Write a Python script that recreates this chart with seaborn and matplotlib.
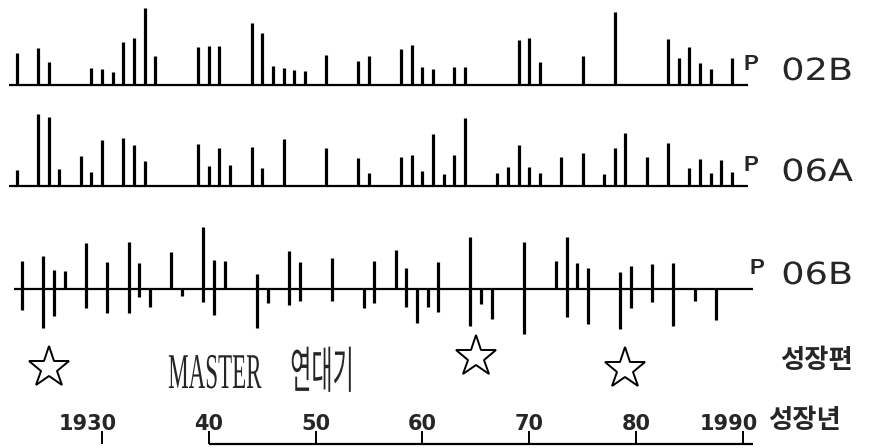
import numpy as np
import pandas as pd
import matplotlib
matplotlib.use('Agg')
import matplotlib.pyplot as plt
import seaborn as sns
from matplotlib.patheffects import AbstractPathEffect
from matplotlib.transforms import Affine2D

# skeleton plot data (bar lengths)
years_02b = [1922, 1924, 1925, 1929, 1930, 1931, 1932, 1933, 1934, 1935,
             1939, 1940, 1941, 1944, 1945, 1946, 1947, 1948, 1949,
             1951, 1954, 1955, 1958, 1959, 1960, 1961, 1963, 1964,
             1969, 1970, 1971, 1975, 1978, 1983, 1984, 1985, 1986, 1987, 1989]
heights_02b = [32, 37, 23, 17, 16, 13, 43, 47, 77, 29,
               38, 39, 39, 62, 52, 19, 17, 15, 14,
               30, 24, 29, 36, 40, 18, 16, 18, 18,
               45, 47, 23, 29, 73, 46, 27, 38, 22, 16, 27]

years_06a = [1922, 1924, 1925, 1926, 1928, 1929, 1930, 1932, 1933, 1934,
             1939, 1940, 1941, 1942, 1944, 1945, 1947,
             1951, 1954, 1955, 1958, 1959, 1960, 1961, 1962, 1963, 1964,
             1967, 1968, 1969, 1970, 1971, 1973, 1975,
             1977, 1978, 1979, 1981, 1983, 1985, 1986, 1987, 1988, 1989]
heights_06a = [16, 72, 69, 17, 30, 14, 46, 48, 41, 25,
               42, 20, 38, 21, 39, 18, 47,
               38, 28, 13, 29, 31, 15, 52, 12, 31, 68,
               13, 19, 41, 19, 13, 29, 33,
               12, 38, 53, 29, 43, 18, 27, 13, 26, 14]

years_06b = [1922, 1924, 1925, 1926, 1928, 1930, 1932, 1933, 1934, 1936,
             1937, 1939, 1940, 1941, 1944, 1945, 1947, 1948, 1951, 1954,
             1955, 1957, 1958, 1959, 1960, 1961, 1964, 1965, 1966, 1969,
             1972, 1973, 1974, 1975, 1978, 1979, 1981, 1983, 1985, 1987]
up_06b = [28, 33, 19, 18, 46, 27, 47, 26, 0, 37,
          0, 62, 29, 28, 15, 0, 38, 27, 31, 0,
          28, 39, 21, 0, 0, 27, 52, 0, 0, 47,
          28, 52, 26, 21, 17, 23, 25, 26, 0, 0]
down_06b = [21, 39, 27, 0, 19, 24, 24, 8, 18, 0,
            7, 13, 26, 0, 39, 14, 16, 12, 12, 19,
            14, 0, 18, 34, 18, 23, 37, 15, 30, 45,
            0, 28, 0, 35, 40, 19, 13, 37, 12, 31]

sample_names = ['02B', '06A', '06B']
star_years = [1925, 1965, 1979]
tick_years = [1930, 1940, 1950, 1960, 1970, 1980, 1990]
tick_labels = ['1930', '40', '50', '60', '70', '80', '1990']

# layout (pixel units, y downward)
W, H = 871, 448
px_year = 10.68
x0 = 1930 - 102 / px_year
x1 = x0 + W / px_year
row_base = {'02B': 85, '06A': 186, '06B': 289}
row_shift = {'02B': 0.0, '06A': 0.0, '06B': 0.5}
row_start, row_end = 1921.3, 1990.5
star_y = [368, 357, 369]
axis_y = 444


class Stretch(AbstractPathEffect):
    """scale the glyphs horizontally (condensed / wide lettering)"""
    def __init__(self, sx):
        super().__init__()
        self.sx = sx

    def draw_path(self, renderer, gc, tpath, affine, rgbFace=None):
        renderer.draw_path(gc, tpath, Affine2D().scale(self.sx, 1) + affine, rgbFace)


sns.set_style('white')
plt.rcParams['font.family'] = ['DejaVu Sans', 'Noto Sans CJK KR']

fig = plt.figure(figsize=(W / 100, H / 100), dpi=100)
ax = fig.add_axes([0, 0, 1, 1])
ax.set_xlim(x0, x1)
ax.set_ylim(H, 0)
ax.axis('off')

df_a = pd.DataFrame({'year': years_02b, 'up': heights_02b, 'down': 0, 'sample': '02B'})
df_b = pd.DataFrame({'year': years_06a, 'up': heights_06a, 'down': 0, 'sample': '06A'})
df_c = pd.DataFrame({'year': years_06b, 'up': up_06b, 'down': down_06b, 'sample': '06B'})
df = pd.concat([df_a, df_b, df_c], ignore_index=True)

for name in sample_names:
    sub = df[df['sample'] == name]
    base = row_base[name]
    xs = sub['year'] + row_shift[name]
    ax.hlines(base, row_start + row_shift[name], row_end + row_shift[name],
              color='black', lw=1.6)
    ax.vlines(xs, base - sub['up'], base + sub['down'], color='black', lw=2.3)
    ax.text(row_end + row_shift[name] + 0.3, base - 10, 'P', fontsize=16,
            fontweight='bold', ha='center', va='bottom', family='Liberation Sans')
    ax.text(1993.6, base + 1, name, fontsize=22, ha='left', va='bottom',
            path_effects=[Stretch(1.2)])

# stars marking key years
for yr, sy in zip(star_years, star_y):
    ax.plot(yr, sy, marker='*', markersize=31, mfc='white', mec='black', mew=1.4)

ax.text(1936.2, 388, 'MASTER     연대기', fontsize=36,
        family=['Liberation Serif', 'Noto Sans CJK KR'],
        ha='left', va='baseline', path_effects=[Stretch(0.46)])
ax.text(1993.5, 360, '성장편', fontsize=19, fontweight='bold',
        family='Noto Sans CJK KR', ha='left', va='center')

# year axis at the bottom
ax.hlines(axis_y, 1940, 1991, color='black', lw=1.6)
ax.vlines(tick_years, axis_y - 13, axis_y, color='black', lw=1.4)
for yr, lab in zip(tick_years, tick_labels):
    if len(lab) == 4:
        ax.text(yr + 1.4, axis_y - 10, lab, fontsize=15, fontweight='bold',
                ha='right', va='bottom')
    else:
        ax.text(yr, axis_y - 10, lab, fontsize=15, fontweight='bold',
                ha='center', va='bottom')
ax.text(1992.4, axis_y - 10, '성장년', fontsize=19, fontweight='bold',
        family='Noto Sans CJK KR', ha='left', va='bottom')

fig.savefig('out.png', dpi=100)
